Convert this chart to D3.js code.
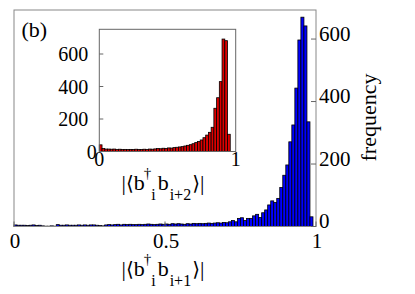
<!DOCTYPE html>
<html><head><meta charset="utf-8">
<script src="https://cdn.jsdelivr.net/npm/d3@7"></script>
</head><body style="margin:0"><svg id="c" width="415" height="294"></svg>
<script>
// ---- data ----
const mainBinWidth = 0.01;
const mainCounts = [
  5,4,4,4,3,4,5,3,4,2,
  1,1,2,1,6,4,4,5,4,4,
  4,5,4,5,4,5,5,4,3,2,
  5,6,5,6,7,5,7,6,7,6,
  6,7,6,7,8,7,6,7,8,7,
  8,7,9,8,9,8,7,9,8,10,
  9,10,9,10,11,10,11,12,11,13,
  12,15,19,15,26,28,19,26,26,34,
  39,29,44,53,69,82,77,90,125,164,
  197,271,325,443,597,670,642,335,31,0
];
const insetBinWidth = 0.02;
const insetCounts = [
  41,18,15,15,14,15,13,14,12,13,
  12,13,12,14,13,12,14,13,15,14,
  16,18,17,20,19,22,21,24,26,28,
  30,34,38,42,48,55,62,71,85,101,
  118,149,266,331,430,692,682,106,0,0
];
const mainYTicks = [0,200,400,600];
const mainXTicks = [0,0.5,1];
const mainXTickLabels = ["0","0.5","1"];
const insetYTicks = [0,200,400,600];
const insetXTicks = [0,1];
const insetXTickLabels = ["0","1"];
const panelLabel = "(b)";
const yTitle = "frequency";
const mainSub = "i+1";
const insetSub = "i+2";

// ---- drawing ----
const FONT = "Liberation Serif";
const svg = d3.select("#c");

// main histogram
const x = d3.scaleLinear().domain([0,1]).range([14,316]);
const y = d3.scaleLinear().domain([0,693]).range([226.5,10]);

const main = svg.append("g");
main.selectAll("rect.bar").data(mainCounts.map((v,i)=>({i,v})).filter(d=>d.v>0))
  .join("rect").attr("class","bar")
  .attr("x", d=>x(d.i*mainBinWidth))
  .attr("width", d=>x((d.i+1)*mainBinWidth)-x(d.i*mainBinWidth))
  .attr("y", d=>y(d.v))
  .attr("height", d=>y(0)-y(d.v))
  .attr("fill","#0000ff").attr("stroke","#000").attr("stroke-width",0.8);

main.append("rect").attr("x",x(0)).attr("y",y.range()[1]).attr("width",x(1)-x(0)).attr("height",y(0)-y.range()[1])
  .attr("fill","none").attr("stroke","#888").attr("stroke-width",1);

// ticks drawn from the scales (pointing inward)
main.selectAll("line.yt").data(mainYTicks).join("line").attr("class","yt")
  .attr("x1", x(1)).attr("x2", x(1)-5).attr("y1", d=>y(d)).attr("y2", d=>y(d))
  .attr("stroke","#666").attr("stroke-width",1);
main.selectAll("line.xt").data(mainXTicks).join("line").attr("class","xt")
  .attr("x1", d=>x(d)).attr("x2", d=>x(d)).attr("y1", y(0)).attr("y2", y(0)-5)
  .attr("stroke","#666").attr("stroke-width",1);

// inset
const x2 = d3.scaleLinear().domain([0,1]).range([99.3,235.7]);
const y2 = d3.scaleLinear().domain([0,752]).range([151.5,29.3]);
const ins = svg.append("g");
ins.append("rect").attr("x",x2(0)).attr("y",y2.range()[1]).attr("width",x2(1)-x2(0)).attr("height",y2(0)-y2.range()[1])
  .attr("fill","#fff").attr("stroke","none");
ins.selectAll("rect.bar").data(insetCounts.map((v,i)=>({i,v})).filter(d=>d.v>0))
  .join("rect").attr("class","bar")
  .attr("x", d=>x2(d.i*insetBinWidth))
  .attr("width", d=>x2((d.i+1)*insetBinWidth)-x2(d.i*insetBinWidth))
  .attr("y", d=>y2(d.v))
  .attr("height", d=>y2(0)-y2(d.v))
  .attr("fill","#dd0000").attr("stroke","#000").attr("stroke-width",0.8);
ins.append("rect").attr("x",x2(0)).attr("y",y2.range()[1]).attr("width",x2(1)-x2(0)).attr("height",y2(0)-y2.range()[1])
  .attr("fill","none").attr("stroke","#666").attr("stroke-width",1);
ins.selectAll("line.yt").data(insetYTicks).join("line").attr("class","yt")
  .attr("x1", x2(0)).attr("x2", x2(0)+4).attr("y1", d=>y2(d)).attr("y2", d=>y2(d))
  .attr("stroke","#666").attr("stroke-width",1);

// ---- texts ----
function stext(px, py, str, size, anchor) {
  return svg.append("text")
    .attr("x", px).attr("y", py)
    .attr("font-family", FONT)
    .attr("font-size", size)
    .attr("text-anchor", anchor || "start")
    .text(str);
}

function drawTitle(x0, base, sub) {
  const t = svg.append("text").attr("x", x0).attr("y", base)
    .attr("font-family", FONT).attr("font-size", 22);
  t.append("tspan").text("|");
  t.append("tspan").attr("font-family", "DejaVu Sans").attr("font-size", 20).text("\u27E8");
  t.append("tspan").text("b");
  t.append("tspan").attr("font-size", 15).attr("dx", -1).attr("dy", -12).text("\u2020");
  t.append("tspan").attr("font-size", 16).attr("dx", 0).attr("dy", 21.5).text("i");
  t.append("tspan").attr("font-size", 22).attr("dx", 2).attr("dy", -9.5).text("b");
  t.append("tspan").attr("font-size", 16).attr("dx", 1).attr("dy", 9.5).text(sub);
  t.append("tspan").attr("font-family", "DejaVu Sans").attr("font-size", 20).attr("dx", 1).attr("dy", -9.5).text("\u27E9");
  t.append("tspan").text("|");
}

mainYTicks.forEach(v => stext(x(1)+3, y(v)+1.5, String(v), 21, "start"));
mainXTicks.forEach((v,k) => stext(x(v)+1, 248, mainXTickLabels[k], 21, "middle"));

svg.append("text")
  .attr("transform", "translate(376,117.5) rotate(-90)")
  .attr("font-family", FONT)
  .attr("font-size", 22).attr("text-anchor","middle").text(yTitle);

stext(21.5, 37, panelLabel, 22, "start");
drawTitle(121.5, 276, mainSub);

insetYTicks.forEach(v => stext(v===0 ? x2(0)-2.5 : x2(0)-11, y2(v)+7, String(v), 20, "end"));
insetXTicks.forEach((v,k) => stext(x2(v), 165.5, insetXTickLabels[k], 20, "middle"));
drawTitle(121.5, 190, insetSub);
</script></body></html>
